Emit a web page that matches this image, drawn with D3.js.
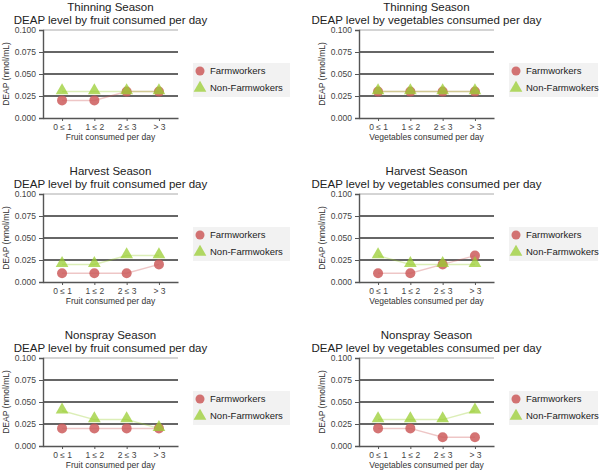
<!DOCTYPE html>
<html>
<head>
<meta charset="utf-8">
<script src="https://cdn.jsdelivr.net/npm/d3@7"></script>
<style>
  body { margin: 0; background: #fff; }
  svg { display: block; font-family: "Liberation Sans", Arial, sans-serif; }
</style>
</head>
<body>
<div id="chart"></div>
<script>
const CATEGORIES = ["0 ≤ 1", "1 ≤ 2", "2 ≤ 3", "> 3"];
const SEASONS = ["Thinning Season", "Harvest Season", "Nonspray Season"];
const FOODS = ["fruit", "vegetables"];
const GROUPS = ["Farmworkers", "Non-Farmwokers"];
const Y_TICKS = [0, 0.025, 0.05, 0.075, 0.1];

// [season][food] -> values per category
const FARM = [
  [[0.02, 0.02, 0.03, 0.03], [0.03, 0.03, 0.03, 0.03]],
  [[0.01, 0.01, 0.01, 0.02], [0.01, 0.01, 0.02, 0.03]],
  [[0.02, 0.02, 0.02, 0.02], [0.02, 0.02, 0.01, 0.01]],
];
const NONFARM = [
  [[0.03, 0.03, 0.03, 0.03], [0.03, 0.03, 0.03, 0.03]],
  [[0.02, 0.02, 0.03, 0.03], [0.03, 0.02, 0.02, 0.02]],
  [[0.04, 0.03, 0.03, 0.02], [0.03, 0.03, 0.03, 0.04]],
];

const width = 601;
const height = 472;
const colLeft = [43, 359];
const plotW = 135;
const rowTop = [30, 194, 358];
const plotH = 88;

const color = d3.scaleOrdinal().domain(GROUPS).range(["#cd5c5c", "#9acd32"]);
const fmt = d3.format(".3f");

const svg = d3
  .select("#chart")
  .append("svg")
  .attr("width", width)
  .attr("height", height);

const tri = d3.symbol().type(d3.symbolTriangle).size(70);

SEASONS.forEach((season, si) => {
  FOODS.forEach((food, fi) => {
    const x0 = colLeft[fi];
    const y0 = rowTop[si];
    const g = svg.append("g").attr("transform", `translate(${x0},${y0})`);

    const x = d3.scalePoint().domain(CATEGORIES).range([0, plotW]).padding(0.59);
    const y = d3.scaleLinear().domain([0, 0.1]).range([plotH, 0]);

    // grid
    g.append("g")
      .selectAll("line")
      .data(Y_TICKS.filter((t) => t > 0))
      .join("line")
      .attr("x1", 0)
      .attr("x2", plotW)
      .attr("y1", (d) => y(d))
      .attr("y2", (d) => y(d))
      .attr("stroke", (d) => (d === 0.1 ? "#aaa" : "#333"))
      .attr("stroke-width", (d) => (d === 0.1 ? 1 : 1.6));

    // y axis
    const yAxis = g
      .append("g")
      .call(d3.axisLeft(y).tickValues(Y_TICKS).tickFormat(fmt).tickSize(4).tickPadding(3));
    yAxis.select(".domain").attr("stroke", "#555").attr("stroke-width", 1.4);
    yAxis.selectAll(".tick line").attr("stroke", "#555");
    yAxis.selectAll("text").attr("font-size", 8.5).attr("fill", "#444");

    // x axis
    const xAxis = g
      .append("g")
      .attr("transform", `translate(0,${plotH})`)
      .call(d3.axisBottom(x).tickSize(3).tickSizeOuter(0).tickPadding(3));
    xAxis.select(".domain").attr("stroke", "#555").attr("stroke-width", 1.4);
    xAxis.selectAll(".tick line").attr("stroke", "#555");
    xAxis.selectAll("text").attr("font-size", 8.5).attr("fill", "#444");

    g.append("text")
      .attr("x", plotW / 2)
      .attr("y", plotH + 22)
      .attr("text-anchor", "middle")
      .attr("font-size", 8.5)
      .attr("fill", "#333")
      .text(food === "fruit" ? "Fruit consumed per day" : "Vegetables consumed per day");

    g.append("text")
      .attr("transform", `translate(-34,${plotH / 2}) rotate(-90)`)
      .attr("text-anchor", "middle")
      .attr("font-size", 8.5)
      .attr("fill", "#333")
      .text("DEAP (nmol/mL)");

    // titles
    g.append("text")
      .attr("x", plotW / 2)
      .attr("y", -19)
      .attr("text-anchor", "middle")
      .attr("font-size", 11.5)
      .attr("fill", "#222")
      .text(season);
    g.append("text")
      .attr("x", plotW / 2)
      .attr("y", -6)
      .attr("text-anchor", "middle")
      .attr("font-size", 11.5)
      .attr("fill", "#222")
      .text(`DEAP level by ${food} consumed per day`);

    const series = [
      { key: GROUPS[0], values: FARM[si][fi] },
      { key: GROUPS[1], values: NONFARM[si][fi] },
    ];
    const line = d3
      .line()
      .x((d, i) => x(CATEGORIES[i]))
      .y((d) => y(d));

    series.forEach((s) => {
      g.append("path")
        .attr("d", line(s.values))
        .attr("fill", "none")
        .attr("stroke", color(s.key))
        .attr("stroke-opacity", 0.35)
        .attr("stroke-width", 1.5);
    });

    g.append("g")
      .selectAll("circle")
      .data(series[0].values)
      .join("circle")
      .attr("cx", (d, i) => x(CATEGORIES[i]))
      .attr("cy", (d) => y(d))
      .attr("r", 5)
      .attr("fill", color(GROUPS[0]))
      .attr("fill-opacity", 0.85);

    g.append("g")
      .selectAll("path")
      .data(series[1].values)
      .join("path")
      .attr("d", tri)
      .attr("transform", (d, i) => `translate(${x(CATEGORIES[i])},${y(d) - 1})`)
      .attr("fill", color(GROUPS[1]))
      .attr("fill-opacity", 0.75);

    // legend
    const lg = g.append("g").attr("transform", `translate(${plotW + 15},${33})`);
    lg.append("rect")
      .attr("width", fi === 0 ? 97 : 89)
      .attr("height", 34)
      .attr("fill", "#f2f2f2");
    const items = lg
      .selectAll("g")
      .data(GROUPS)
      .join("g")
      .attr("transform", (d, i) => `translate(7,${8 + i * 17})`);
    items
      .filter((d, i) => i === 0)
      .append("circle")
      .attr("r", 4.5)
      .attr("fill", color(GROUPS[0]))
      .attr("fill-opacity", 0.85);
    items
      .filter((d, i) => i === 1)
      .append("path")
      .attr("d", tri)
      .attr("fill", color(GROUPS[1]))
      .attr("fill-opacity", 0.75);
    items
      .append("text")
      .attr("x", 10)
      .attr("dy", "0.35em")
      .attr("font-size", 9.5)
      .attr("fill", "#222")
      .text((d) => d);
  });
});
</script>
</body>
</html>
